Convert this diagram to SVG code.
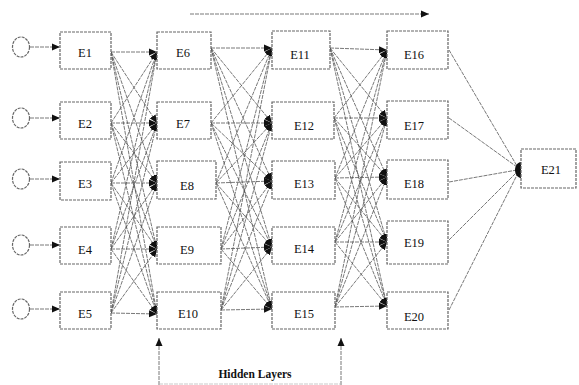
<svg xmlns="http://www.w3.org/2000/svg" width="579" height="385" viewBox="0 0 579 385">
<defs>
<marker id="ah" markerUnits="userSpaceOnUse" markerWidth="8" markerHeight="8" refX="8" refY="4" orient="auto">
<path d="M0,0.5 L8,4 L0,7.5 z" fill="#111"/>
</marker>
<style>
.box{fill:#fff;stroke:#666;stroke-width:1.2;stroke-dasharray:3 1}
.c{fill:#fff;stroke:#666;stroke-width:1.2;stroke-dasharray:3 1}
.lbl{font-family:"Liberation Serif",serif;font-size:12.5px;fill:#111;text-anchor:middle}
.cn line{stroke:#555;stroke-width:0.8;stroke-dasharray:4 1;marker-end:url(#ah)}
.cn .o{marker-end:none}
.ttl{font-family:"Liberation Serif",serif;font-size:11.5px;font-weight:bold;fill:#111;text-anchor:middle}
</style>
</defs>
<rect width="579" height="385" fill="#fff"/>

<g id="connectors" class="cn">
<line x1="30" y1="47" x2="60" y2="47"/>
<line x1="30" y1="118" x2="60" y2="118"/>
<line x1="30" y1="179" x2="60" y2="179"/>
<line x1="30" y1="245" x2="60" y2="245"/>
<line x1="30" y1="309" x2="60" y2="309"/>
<line x1="111" y1="52" x2="157" y2="52"/>
<line x1="111" y1="52" x2="157" y2="123"/>
<line x1="111" y1="52" x2="157" y2="183"/>
<line x1="111" y1="52" x2="157" y2="249"/>
<line x1="111" y1="52" x2="157" y2="314"/>
<line x1="111" y1="123" x2="157" y2="52"/>
<line x1="111" y1="123" x2="157" y2="123"/>
<line x1="111" y1="123" x2="157" y2="183"/>
<line x1="111" y1="123" x2="157" y2="249"/>
<line x1="111" y1="123" x2="157" y2="314"/>
<line x1="111" y1="183" x2="157" y2="52"/>
<line x1="111" y1="183" x2="157" y2="123"/>
<line x1="111" y1="183" x2="157" y2="183"/>
<line x1="111" y1="183" x2="157" y2="249"/>
<line x1="111" y1="183" x2="157" y2="314"/>
<line x1="111" y1="249" x2="157" y2="52"/>
<line x1="111" y1="249" x2="157" y2="123"/>
<line x1="111" y1="249" x2="157" y2="183"/>
<line x1="111" y1="249" x2="157" y2="249"/>
<line x1="111" y1="249" x2="157" y2="314"/>
<line x1="111" y1="313" x2="157" y2="52"/>
<line x1="111" y1="313" x2="157" y2="123"/>
<line x1="111" y1="313" x2="157" y2="183"/>
<line x1="111" y1="313" x2="157" y2="249"/>
<line x1="111" y1="313" x2="157" y2="314"/>
<line x1="211" y1="48" x2="272" y2="48"/>
<line x1="211" y1="48" x2="272" y2="123"/>
<line x1="211" y1="48" x2="272" y2="181"/>
<line x1="211" y1="48" x2="272" y2="247"/>
<line x1="211" y1="48" x2="272" y2="309"/>
<line x1="211" y1="123" x2="272" y2="48"/>
<line x1="211" y1="123" x2="272" y2="123"/>
<line x1="211" y1="123" x2="272" y2="181"/>
<line x1="211" y1="123" x2="272" y2="247"/>
<line x1="211" y1="123" x2="272" y2="309"/>
<line x1="216" y1="183" x2="272" y2="48"/>
<line x1="216" y1="183" x2="272" y2="123"/>
<line x1="216" y1="183" x2="272" y2="181"/>
<line x1="216" y1="183" x2="272" y2="247"/>
<line x1="216" y1="183" x2="272" y2="309"/>
<line x1="221" y1="249" x2="272" y2="48"/>
<line x1="221" y1="249" x2="272" y2="123"/>
<line x1="221" y1="249" x2="272" y2="181"/>
<line x1="221" y1="249" x2="272" y2="247"/>
<line x1="221" y1="249" x2="272" y2="309"/>
<line x1="221" y1="310" x2="272" y2="48"/>
<line x1="221" y1="310" x2="272" y2="123"/>
<line x1="221" y1="310" x2="272" y2="181"/>
<line x1="221" y1="310" x2="272" y2="247"/>
<line x1="221" y1="310" x2="272" y2="309"/>
<line x1="330" y1="48" x2="387" y2="50"/>
<line x1="330" y1="48" x2="387" y2="118"/>
<line x1="330" y1="48" x2="387" y2="177"/>
<line x1="330" y1="48" x2="387" y2="242"/>
<line x1="330" y1="48" x2="387" y2="306"/>
<line x1="334" y1="118" x2="387" y2="50"/>
<line x1="334" y1="118" x2="387" y2="118"/>
<line x1="334" y1="118" x2="387" y2="177"/>
<line x1="334" y1="118" x2="387" y2="242"/>
<line x1="334" y1="118" x2="387" y2="306"/>
<line x1="335" y1="178" x2="387" y2="50"/>
<line x1="335" y1="178" x2="387" y2="118"/>
<line x1="335" y1="178" x2="387" y2="177"/>
<line x1="335" y1="178" x2="387" y2="242"/>
<line x1="335" y1="178" x2="387" y2="306"/>
<line x1="335" y1="242" x2="387" y2="50"/>
<line x1="335" y1="242" x2="387" y2="118"/>
<line x1="335" y1="242" x2="387" y2="177"/>
<line x1="335" y1="242" x2="387" y2="242"/>
<line x1="335" y1="242" x2="387" y2="306"/>
<line x1="335" y1="307" x2="387" y2="50"/>
<line x1="335" y1="307" x2="387" y2="118"/>
<line x1="335" y1="307" x2="387" y2="177"/>
<line x1="335" y1="307" x2="387" y2="242"/>
<line x1="335" y1="307" x2="387" y2="306"/>
<line class="o" x1="449" y1="50" x2="517" y2="166"/>
<line class="o" x1="449" y1="118" x2="517" y2="167"/>
<line class="o" x1="449" y1="182" x2="517" y2="170"/>
<line class="o" x1="449" y1="240" x2="517" y2="172"/>
<line class="o" x1="449" y1="310" x2="518" y2="173"/>
<path d="M521,162 C513,163 513,177 521,178 z" fill="#111"/>
<line x1="190" y1="14" x2="429" y2="14"/>
<line x1="159" y1="385" x2="159" y2="338"/>
<line x1="341" y1="385" x2="341" y2="338"/>
<line class="o" x1="159" y1="384" x2="341" y2="384" style="stroke:#bbb"/>
</g>

<g id="x1"><ellipse class="c" cx="21" cy="47" rx="8.5" ry="10"/></g>
<g id="x2"><ellipse class="c" cx="21" cy="118" rx="8.5" ry="10"/></g>
<g id="x3"><ellipse class="c" cx="21" cy="179" rx="8.5" ry="10"/></g>
<g id="x4"><ellipse class="c" cx="21" cy="245" rx="8.5" ry="10"/></g>
<g id="x5"><ellipse class="c" cx="21" cy="309" rx="8.5" ry="10"/></g>

<g id="E1"><rect class="box" x="60" y="32" width="51" height="37"/><text class="lbl" x="85" y="57">E1</text></g>
<g id="E2"><rect class="box" x="60" y="102" width="51" height="37"/><text class="lbl" x="85" y="128">E2</text></g>
<g id="E3"><rect class="box" x="60" y="162" width="51" height="38"/><text class="lbl" x="85" y="188">E3</text></g>
<g id="E4"><rect class="box" x="60" y="227" width="51" height="37"/><text class="lbl" x="85" y="254">E4</text></g>
<g id="E5"><rect class="box" x="60" y="292" width="51" height="37"/><text class="lbl" x="85" y="318">E5</text></g>

<g id="E6"><rect class="box" x="157" y="32" width="54" height="37"/><text class="lbl" x="183" y="57">E6</text></g>
<g id="E7"><rect class="box" x="157" y="102" width="54" height="37"/><text class="lbl" x="183" y="128">E7</text></g>
<g id="E8"><rect class="box" x="157" y="161" width="59" height="38"/><text class="lbl" x="187" y="190">E8</text></g>
<g id="E9"><rect class="box" x="157" y="227" width="64" height="37"/><text class="lbl" x="187" y="254">E9</text></g>
<g id="E10"><rect class="box" x="157" y="292" width="64" height="37"/><text class="lbl" x="188" y="318">E10</text></g>

<g id="E11"><rect class="box" x="272" y="31" width="58" height="38"/><text class="lbl" x="300" y="59">E11</text></g>
<g id="E12"><rect class="box" x="272" y="102" width="62" height="37"/><text class="lbl" x="304" y="130">E12</text></g>
<g id="E13"><rect class="box" x="272" y="161" width="63" height="38"/><text class="lbl" x="304" y="188">E13</text></g>
<g id="E14"><rect class="box" x="272" y="227" width="63" height="37"/><text class="lbl" x="304" y="253">E14</text></g>
<g id="E15"><rect class="box" x="272" y="292" width="63" height="37"/><text class="lbl" x="304" y="318">E15</text></g>

<g id="E16"><rect class="box" x="387" y="31" width="61" height="38"/><text class="lbl" x="414" y="59">E16</text></g>
<g id="E17"><rect class="box" x="387" y="101" width="61" height="38"/><text class="lbl" x="414" y="130">E17</text></g>
<g id="E18"><rect class="box" x="387" y="160" width="61" height="39"/><text class="lbl" x="414" y="188">E18</text></g>
<g id="E19"><rect class="box" x="387" y="221" width="61" height="43"/><text class="lbl" x="414" y="247">E19</text></g>
<g id="E20"><rect class="box" x="387" y="292" width="61" height="37"/><text class="lbl" x="414" y="321">E20</text></g>

<g id="E21"><rect class="box" x="521" y="149" width="55" height="39"/><text class="lbl" x="551" y="174">E21</text></g>

<g id="hidden"><text class="ttl" x="255" y="378">Hidden Layers</text></g>
</svg>
